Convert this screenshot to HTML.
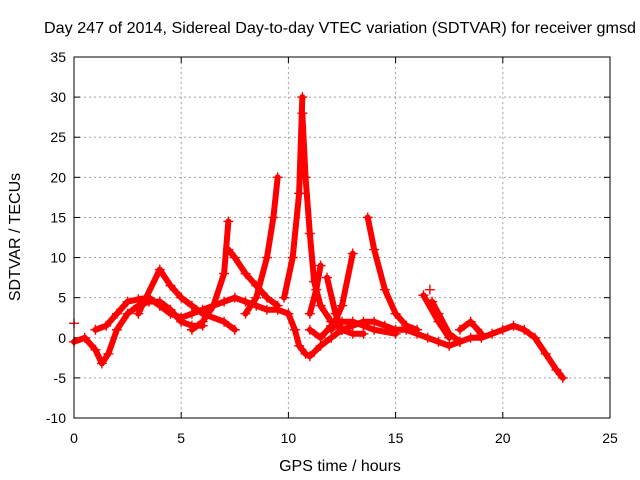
<!DOCTYPE html>
<html><head><meta charset="utf-8"><style>
body{margin:0;background:#fff}
svg{display:block;font-family:"Liberation Sans",sans-serif;font-size:14px}
</style></head><body>
<svg id="chart" width="640" height="480" viewBox="0 0 640 480">
<rect width="640" height="480" fill="#fff"/>
<text x="44" y="33" font-size="16" textLength="592" lengthAdjust="spacingAndGlyphs">Day 247 of 2014, Sidereal Day-to-day VTEC variation (SDTVAR) for receiver gmsd</text>
<g id="grid"></g><g id="axes"></g><g id="series"></g>
<rect x="74" y="57" width="536" height="361" fill="none" stroke="#000"/>
<text x="340" y="471" text-anchor="middle" font-size="16">GPS time / hours</text>
<text transform="translate(20,237) rotate(-90)" text-anchor="middle" font-size="16">SDTVAR / TECUs</text>
</svg>
<script>
const xTicks=[0,5,10,15,20,25];
const yTicks=[-10,-5,0,5,10,15,20,25,30,35];
const track1=[[0,-0.5],[0.5,0],[1,-1.5],[1.3,-3.2],[1.6,-2],[2,1],[2.5,3],[3,4],[3.5,4.5],[4,4.5],[4.5,3.5],[5,2],[5.5,1.5],[6,1.5]];
const track2=[[1,1],[1.5,1.5],[2,3],[2.5,4.5],[3,4.8],[3.5,5],[4,4],[4.5,3],[5,2.5],[5.5,3],[6,3.5],[6.5,4],[7,4.5],[7.5,5],[8,4.5],[8.5,4],[9,3.5],[9.5,3.5],[10,3],[10.3,1],[10.5,-1],[10.8,-2],[11,-2.3],[11.5,-1],[12,0],[12.5,1],[13,1.5],[13.5,2],[14,2],[14.5,1.5],[15,1],[15.5,1],[16,0.5],[16.5,0],[17,-0.5],[17.5,-1],[18,-0.5],[18.5,0],[19,0],[19.5,0.5],[20,1],[20.5,1.5],[21,1],[21.5,0],[22,-2],[22.5,-4],[22.8,-5]];
const track3=[[5.5,1],[6,2],[6.5,4],[7,8],[7.2,14.5]];
const track4=[[7.2,11],[7.5,10],[8,8],[8.5,6.5],[9,5],[9.5,4]];
const track5=[[8,3],[8.5,5],[9,10],[9.3,15],[9.5,20]];
const track6=[[9.8,5],[10.2,10],[10.5,18],[10.65,30]];
const track7=[[10.65,28],[10.8,20],[11,13],[11.2,7],[11.5,4],[12,2],[12.5,1],[13,0.5],[13.5,0.5]];
const track8=[[3,3],[4,8.5],[4.5,6.5],[5,5],[5.5,4],[6,3],[7,2],[7.5,1]];
const track9=[[11,3],[11.3,6],[11.5,9]];
const track10=[[11.8,7.5],[12.2,3],[12.5,1]];
const track11=[[12,1],[12.5,4],[13,10.5]];
const track12=[[13.7,15],[14,11],[14.5,6],[15,3],[15.5,1.5],[16,1]];
const track13=[[16.3,5.3],[17,2],[17.5,0]];
const track14=[[16.7,4.5],[17,3],[17.5,0.5],[18,-0.5]];
const track15=[[18,1],[18.5,2],[19,0.5]];
const track16=[[11,1],[11.5,0],[12,1.5],[12.5,2],[13,2],[13.5,1.5],[14,1],[15,0.5]];
const track17=[[0,1.8]];
const track18=[[16.6,6]];
const tracks=[track1,track2,track3,track4,track5,track6,track7,track8,track9,track10,track11,track12,track13,track14,track15,track16,track17,track18];

const X=v=>74+v*536/25, Y=v=>418-(v+10)*361/45;
const NS="http://www.w3.org/2000/svg";
function mk(t,a,p){const e=document.createElementNS(NS,t);for(const k in a)e.setAttribute(k,a[k]);p.appendChild(e);return e;}
const grid=document.getElementById('grid'),axes=document.getElementById('axes'),ser=document.getElementById('series');
xTicks.forEach(t=>{const x=X(t);
 if(t>0&&t<25){const g=mk('line',{x1:x,x2:x,y1:57,y2:418,stroke:'#a0a0a0','stroke-dasharray':'2,3'},grid);
 
 }
 mk('line',{x1:x,x2:x,y1:418,y2:412,stroke:'#000'},axes);mk('line',{x1:x,x2:x,y1:57,y2:63,stroke:'#000'},axes);
 const l=mk('text',{x:x,y:443,'text-anchor':'middle'},axes);l.textContent=t;
 
 });
yTicks.forEach(t=>{const y=Y(t);
 if(t>-10&&t<35){const g=mk('line',{x1:74,x2:610,y1:y,y2:y,stroke:'#a0a0a0','stroke-dasharray':'2,3'},grid);
 
 }
 mk('line',{x1:74,x2:80,y1:y,y2:y,stroke:'#000'},axes);mk('line',{x1:610,x2:604,y1:y,y2:y,stroke:'#000'},axes);
 const l=mk('text',{x:66,y:y+5,'text-anchor':'end'},axes);l.textContent=t;
 
 });
tracks.forEach(tr=>{
 const p=mk('polyline',{points:tr.map(d=>X(d[0])+','+Y(d[1])).join(' '),fill:'none',stroke:'#f00','stroke-width':6,'stroke-linejoin':'round','stroke-linecap':'round'},ser);
 
 
 tr.forEach(d=>{const x=X(d[0]),y=Y(d[1]);
  const m=mk('path',{d:`M${x-5},${y}h10M${x},${y-5}v10`,stroke:'#f00','stroke-width':1.4},ser);
  
  });
});
</script>
</body></html>
